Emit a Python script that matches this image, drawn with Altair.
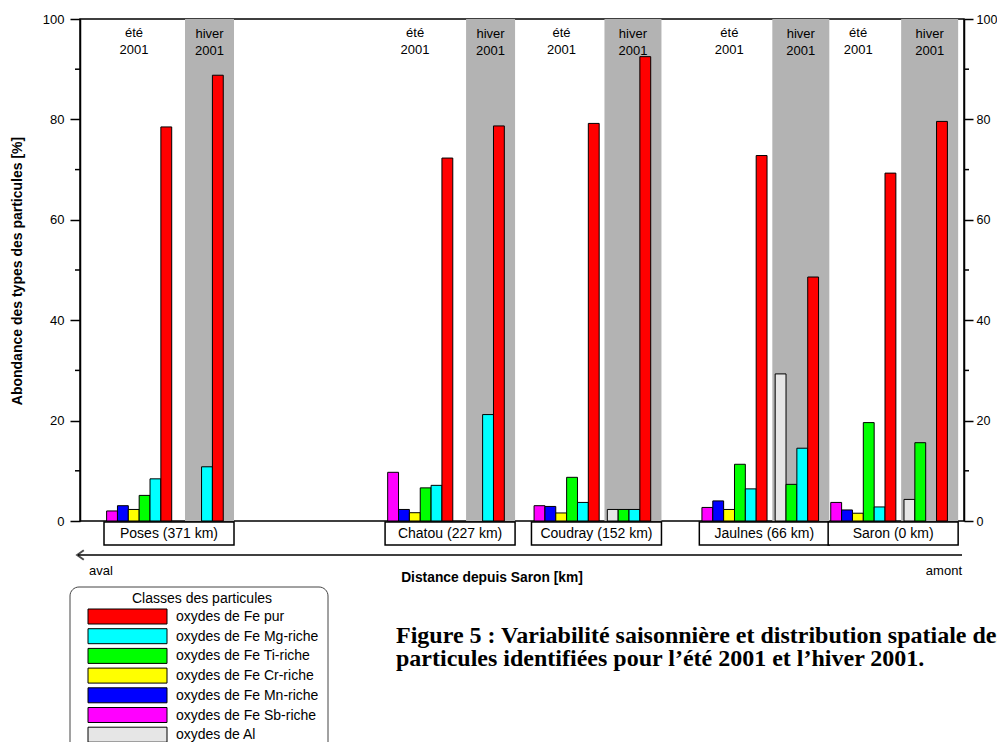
import altair as alt
import pandas as pd

# ---------------- data ----------------
sites = ["Poses", "Chatou", "Coudray", "Jaulnes", "Saron"]
site_km = [371, 227, 152, 66, 0]
site_labels = ["Poses (371 km)", "Chatou (227 km)", "Coudray (152 km)",
               "Jaulnes (66 km)", "Saron (0 km)"]

classes = ["oxydes de Fe pur", "oxydes de Fe Mg-riche", "oxydes de Fe Ti-riche",
           "oxydes de Fe Cr-riche", "oxydes de Fe Mn-riche", "oxydes de Fe Sb-riche",
           "oxydes de Al"]
class_colors = ["#ff0000", "#00ffff", "#00ff00", "#ffff00", "#0000ff", "#ff00ff", "#e6e6e6"]

# été 2001 (bar order: Sb, Mn, Cr, Ti, Mg, pur)
ete_classes = ["oxydes de Fe Sb-riche", "oxydes de Fe Mn-riche", "oxydes de Fe Cr-riche",
               "oxydes de Fe Ti-riche", "oxydes de Fe Mg-riche", "oxydes de Fe pur"]
ete_sb = [2.0, 9.7, 3.05, 2.7, 3.7]
ete_mn = [3.05, 2.3, 2.9, 4.0, 2.2]
ete_cr = [2.3, 1.65, 1.6, 2.3, 1.55]
ete_ti = [5.1, 6.6, 8.7, 11.3, 19.6]
ete_mg = [8.4, 7.1, 3.7, 6.4, 2.8]
ete_pur = [78.5, 72.3, 79.2, 72.8, 69.3]

# hiver 2001 (bar order: Al, Ti, Mg, pur)
hiver_classes = ["oxydes de Al", "oxydes de Fe Ti-riche", "oxydes de Fe Mg-riche",
                 "oxydes de Fe pur"]
hiver_al = [0, 0, 2.3, 29.3, 4.3]
hiver_ti = [0, 0, 2.3, 7.3, 15.6]
hiver_mg = [10.8, 21.2, 2.3, 14.5, 0]
hiver_pur = [88.8, 78.7, 92.5, 48.6, 79.6]

y_ticks = [0, 20, 40, 60, 80, 100]
y_minor = [10, 30, 50, 70, 90]

caption = ("Figure 5 : Variabilité saisonnière et distribution spatiale des\n"
           "particules identifiées pour l’été 2001 et l’hiver 2001.")

# ---------------- layout ----------------
W, H = 884, 502
KM_MIN, KM_MAX = -36.3, 416.6
PX_PER_KM = W / (KM_MAX - KM_MIN)
SLOT = 10.85 / PX_PER_KM          # width of one bar, in km units
ETE_OFF, HIV_OFF = -5.75, 1.0     # first slot of each season, in bar widths from site centre
FONT = "Liberation Sans"

rows = []
ete_vals = [ete_sb, ete_mn, ete_cr, ete_ti, ete_mg, ete_pur]
hiv_vals = [hiver_al, hiver_ti, hiver_mg, hiver_pur]
for s, km in enumerate(site_km):
    for i, c in enumerate(ete_classes):
        v = ete_vals[i][s]
        if v > 0:
            rows.append(dict(site=sites[s], saison="été 2001", cls=c, value=v,
                             x0=km - (ETE_OFF + i) * SLOT, x1=km - (ETE_OFF + i + 1) * SLOT))
    for i, c in enumerate(hiver_classes):
        v = hiv_vals[i][s]
        if v > 0:
            rows.append(dict(site=sites[s], saison="hiver 2001", cls=c, value=v,
                             x0=km - (HIV_OFF + i) * SLOT, x1=km - (HIV_OFF + i + 1) * SLOT))
bars_df = pd.DataFrame(rows)

sites_df = pd.DataFrame(dict(site=sites, km=site_km, label=site_labels))
band_left_px = [8 if a > 0 else 16 for a in hiver_al]
sites_df["b0"] = sites_df.km - pd.Series(band_left_px) / PX_PER_KM
sites_df["b1"] = sites_df.km - 65 / PX_PER_KM
sites_df["box0"] = sites_df.km + 65 / PX_PER_KM
sites_df["box1"] = sites_df.km - 65 / PX_PER_KM
sites_df["ete_x"] = sites_df.km + 35 / PX_PER_KM
sites_df["hiv_x"] = (sites_df.b0 + sites_df.b1) / 2
sites_df["ete_t"] = "été\n2001"
sites_df["hiv_t"] = "hiver\n2001"

one = pd.DataFrame({"k": [0]})   # single row for decorations

xscale = alt.Scale(domain=[KM_MIN, KM_MAX], reverse=True, nice=False, zero=False)
yscale = alt.Scale(domain=[0, 100], nice=False)
cscale = alt.Scale(domain=classes, range=class_colors)

bands = alt.Chart(sites_df).mark_rect(color="#b3b3b3").encode(
    x=alt.X("b0:Q", scale=xscale, axis=None), x2="b1:Q",
    y=alt.value(0), y2=alt.value(H))

bars = alt.Chart(bars_df).mark_rect(stroke="black", strokeWidth=1).encode(
    x=alt.X("x0:Q", scale=xscale, axis=None), x2="x1:Q",
    y=alt.Y("value:Q", scale=yscale,
            axis=alt.Axis(orient="left", values=y_ticks, tickSize=10, labelPadding=6,
                          labelFontSize=13, labelFont=FONT, labelColor="black",
                          domainColor="black", tickColor="black", domainWidth=1.5,
                          tickWidth=1.5, grid=False, title=None)),
    y2=alt.datum(0),
    color=alt.Color("cls:N", scale=cscale, legend=None))

minor_df = pd.DataFrame(dict(v=y_minor))
minor_l = alt.Chart(minor_df).mark_rule(color="black", strokeWidth=1.5).encode(
    y=alt.Y("v:Q", scale=yscale,
            axis=alt.Axis(orient="right", values=y_ticks, tickSize=9, labelPadding=3,
                          labelFontSize=12.5, labelFont=FONT, labelColor="black",
                          domainColor="black", tickColor="black", domainWidth=1.5,
                          tickWidth=1.5, grid=False, title=None)),
    x=alt.value(-5), x2=alt.value(0))
minor_r = alt.Chart(minor_df).mark_rule(color="black", strokeWidth=1.5).encode(
    y=alt.Y("v:Q", scale=yscale, axis=None), x=alt.value(W), x2=alt.value(W + 5))

ete_lab = alt.Chart(sites_df).mark_text(font=FONT, fontSize=13, lineBreak="\n",
                                        lineHeight=17, baseline="top", align="center").encode(
    x=alt.X("ete_x:Q", scale=xscale, axis=None), y=alt.value(8), text="ete_t:N")
hiv_lab = alt.Chart(sites_df).mark_text(font=FONT, fontSize=13, lineBreak="\n",
                                        lineHeight=17, baseline="top", align="center").encode(
    x=alt.X("hiv_x:Q", scale=xscale, axis=None), y=alt.value(9), text="hiv_t:N")

boxes = alt.Chart(sites_df).mark_rect(fill="white", stroke="black", strokeWidth=1.5).encode(
    x=alt.X("box0:Q", scale=xscale, axis=None), x2="box1:Q",
    y=alt.value(H + 1), y2=alt.value(H + 24))
box_lab = alt.Chart(sites_df).mark_text(font=FONT, fontSize=14, baseline="middle").encode(
    x=alt.X("km:Q", scale=xscale, axis=None), y=alt.value(H + 13), text="label:N")

arrow = alt.Chart(one).mark_rule(color="black", strokeWidth=1.5).encode(
    x=alt.value(-2), x2=alt.value(882), y=alt.value(536))
arrow_head = alt.Chart(one).mark_point(shape="M 0.8 -1 L -0.6 0 L 0.8 1", filled=False,
                                       stroke="black", strokeWidth=2, size=90).encode(
    x=alt.value(0), y=alt.value(536))


def txt(t, x, y, **kw):
    return alt.Chart(one).mark_text(font=kw.pop("font", FONT), **kw).encode(
        x=alt.value(x), y=alt.value(y), text=alt.value(t))


aval = txt("aval", 9, 552, fontSize=13, align="left", baseline="middle")
amont = txt("amont", 882, 552, fontSize=13, align="right", baseline="middle")
xtitle = txt("Distance depuis Saron [km]", 412, 559, fontSize=13.8, fontWeight="bold",
             baseline="middle")
ytitle = txt("Abondance des types des particules [%]", -62, 252, fontSize=14,
             fontWeight="bold", angle=270, baseline="middle")

# legend
leg_df = pd.DataFrame(dict(cls=classes, row=list(range(len(classes)))))
leg_df["ly0"] = 590 + leg_df.row * 19.7
leg_df["ly1"] = leg_df.ly0 + 15
leg_df["lyc"] = leg_df.ly0 + 8
leg_frame = alt.Chart(one).mark_rect(fill="white", stroke="#444", strokeWidth=1,
                                     cornerRadius=9).encode(
    x=alt.value(-10), x2=alt.value(248), y=alt.value(568), y2=alt.value(760))
leg_title = txt("Classes des particules", 122, 580, fontSize=14, baseline="middle")
leg_sw = alt.Chart(leg_df).mark_rect(stroke="black", strokeWidth=1).encode(
    x=alt.value(8), x2=alt.value(87),
    y=alt.Y("ly0:Q", scale=None, axis=None), y2="ly1:Q",
    color=alt.Color("cls:N", scale=cscale, legend=None))
leg_txt = alt.Chart(leg_df).mark_text(font=FONT, fontSize=14, align="left",
                                      baseline="middle").encode(
    x=alt.value(96), y=alt.Y("lyc:Q", scale=None, axis=None), text="cls:N")

cap = txt(caption, 316, 605, font="Liberation Serif", fontSize=24, fontWeight="bold",
          align="left", baseline="top", lineBreak="\n", lineHeight=23)

chart = alt.layer(
    bands, bars, minor_l, minor_r, ete_lab, hiv_lab, boxes, box_lab, arrow, arrow_head,
    aval, amont, xtitle, ytitle, leg_frame, leg_title, leg_sw, leg_txt, cap
).resolve_axis(y="independent").properties(
    width=W, height=H,
    autosize=alt.AutoSizeParams(type="none"),
    padding={"left": 72, "top": 11, "right": 33, "bottom": 221},
    background="white",
).configure_view(stroke="black", strokeWidth=1.5)

chart.save("out.html", embed_options={"renderer": "svg", "actions": False})
